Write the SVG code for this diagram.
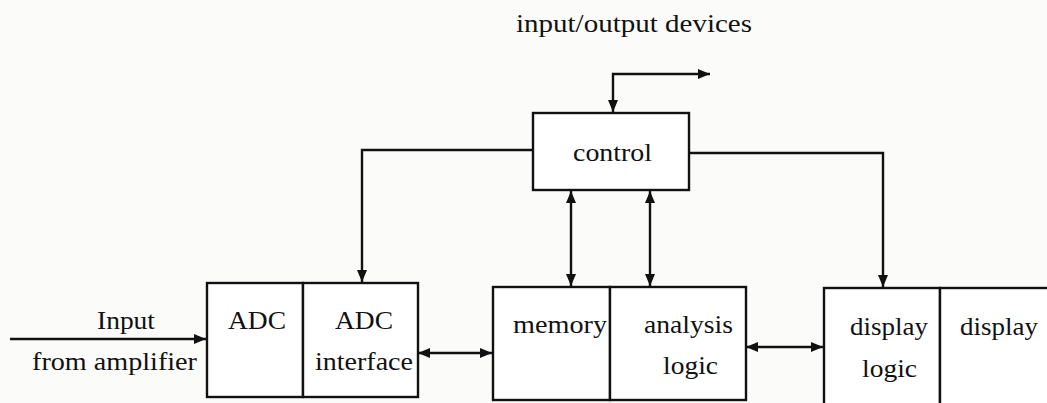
<svg xmlns="http://www.w3.org/2000/svg" width="1047" height="403" viewBox="0 0 1047 403">
<style>
.box{fill:#fff;stroke:#111;stroke-width:2.4}
.ln{fill:none;stroke:#111;stroke-width:2.4}
.t{font-family:'Liberation Serif','DejaVu Serif',serif;font-size:26px;fill:#111}
</style>
<defs>
<marker id="ah" viewBox="0 0 12 10" refX="12" refY="5" markerWidth="12" markerHeight="10" markerUnits="userSpaceOnUse" orient="auto-start-reverse">
<path d="M0,0 L12,5 L0,10 z" fill="#111"/>
</marker>
</defs>
<rect width="1047" height="403" fill="#fbfbfa"/>
<text class="t" font-family="Liberation Serif, serif" x="516" y="32" textLength="236" lengthAdjust="spacingAndGlyphs">input/output  devices</text>
<g id="connectors">
<path class="ln" d="M613,112 V74 H710" marker-start="url(#ah)" marker-end="url(#ah)"/>
<path class="ln" d="M533,150 H362 V282" marker-end="url(#ah)"/>
<path class="ln" d="M689,153 H883 V287" marker-end="url(#ah)"/>
<path class="ln" d="M571,191 V286" marker-start="url(#ah)" marker-end="url(#ah)"/>
<path class="ln" d="M650,191 V286" marker-start="url(#ah)" marker-end="url(#ah)"/>
<path class="ln" d="M10,339 H206" marker-end="url(#ah)"/>
<path class="ln" d="M418,353 H492" marker-start="url(#ah)" marker-end="url(#ah)"/>
<path class="ln" d="M746,347 H823" marker-start="url(#ah)" marker-end="url(#ah)"/>
</g>
<g id="control">
<rect class="box" x="533" y="113" width="156" height="77"/>
<text class="t" font-family="Liberation Serif, serif" x="573" y="161" textLength="79" lengthAdjust="spacingAndGlyphs">control</text>
</g>
<g id="input-label">
<text class="t" font-family="Liberation Serif, serif" x="97" y="329" textLength="58" lengthAdjust="spacingAndGlyphs">Input</text>
<text class="t" font-family="Liberation Serif, serif" x="32" y="370" textLength="165" lengthAdjust="spacingAndGlyphs">from amplifier</text>
</g>
<g id="adc">
<rect class="box" x="207" y="283" width="96" height="114"/>
<text class="t" font-family="Liberation Serif, serif" x="228" y="329" textLength="58" lengthAdjust="spacingAndGlyphs">ADC</text>
</g>
<g id="adc-interface">
<rect class="box" x="303" y="283" width="115" height="114"/>
<text class="t" font-family="Liberation Serif, serif" x="335" y="329" textLength="58" lengthAdjust="spacingAndGlyphs">ADC</text>
<text class="t" font-family="Liberation Serif, serif" x="315" y="370" textLength="98" lengthAdjust="spacingAndGlyphs">interface</text>
</g>
<g id="memory">
<rect class="box" x="493" y="287" width="117" height="113"/>
<text class="t" font-family="Liberation Serif, serif" x="513" y="333" textLength="94" lengthAdjust="spacingAndGlyphs">memory</text>
</g>
<g id="analysis-logic">
<rect class="box" x="610" y="287" width="136" height="113"/>
<text class="t" font-family="Liberation Serif, serif" x="644" y="333" textLength="89" lengthAdjust="spacingAndGlyphs">analysis</text>
<text class="t" font-family="Liberation Serif, serif" x="663" y="374" textLength="55" lengthAdjust="spacingAndGlyphs">logic</text>
</g>
<g id="display-logic">
<rect class="box" x="824" y="288" width="116" height="120"/>
<text class="t" font-family="Liberation Serif, serif" x="850" y="335" textLength="78" lengthAdjust="spacingAndGlyphs">display</text>
<text class="t" font-family="Liberation Serif, serif" x="862" y="377" textLength="55" lengthAdjust="spacingAndGlyphs">logic</text>
</g>
<g id="display">
<rect class="box" x="940" y="288" width="115" height="120"/>
<text class="t" font-family="Liberation Serif, serif" x="960" y="335" textLength="78" lengthAdjust="spacingAndGlyphs">display</text>
</g>
</svg>
